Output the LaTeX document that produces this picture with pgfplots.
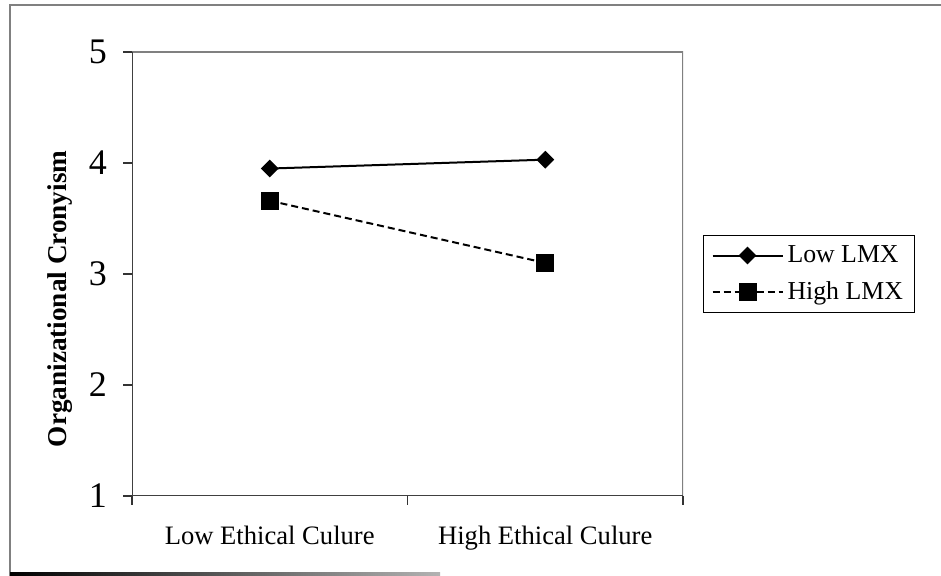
\documentclass[border=0pt]{standalone}
\usepackage{fontspec}
\setmainfont{Liberation Serif}
\usepackage{pgfplots}
\pgfplotsset{compat=1.18}
\begin{document}
\begin{tikzpicture}
  % page 941x576 px at 0.5pt per px
  \useasboundingbox (0,0) rectangle (470.5pt,288pt);
  % outer frame
  \draw[gray, line width=0.8pt] (5pt,0) -- (5pt,285.5pt) -- (470.5pt,285.5pt);
  \shade[left color=black, right color=gray!60] (5pt,0.2pt) rectangle (220pt,1.8pt);

  \begin{axis}[
    at={(66pt,40pt)}, anchor=south west,
    scale only axis, width=275.5pt, height=222pt,
    xmin=0, xmax=2, ymin=1, ymax=5,
    xtick={0,1,2},
    xticklabels={Low Ethical Culure, High Ethical Culure},
    x tick label as interval,
    ytick={1,2,3,4,5},
    tick align=outside, xtick pos=bottom, ytick pos=left,
    major tick length=4.5pt,
    tick style={black!80, line width=0.6pt},
    axis line style={draw=none},
    /pgf/number format/assume math mode=true,
    yticklabel style={font=\fontsize{18}{20}\selectfont, xshift=-4.5pt},
    xticklabel style={font=\fontsize{13.3}{15}\selectfont, yshift=-7pt},
    ylabel={\textbf{Organizational Cronyism}},
    ylabel style={font=\fontsize{13.6}{15}\selectfont, at={(axis description cs:-0.131,0.444)}, anchor=center},
    legend style={at={(1,0.5)}, anchor=west, xshift=10pt, draw=black, line width=0.5pt,
      font=\fontsize{12.9}{15}\selectfont, inner xsep=4pt, inner ysep=3pt,
      row sep=4pt, cells={anchor=west}},
    legend image code/.code={
      \draw[mark repeat=2, mark phase=2, #1] plot coordinates {(0pt,0pt) (17.5pt,0pt) (35pt,0pt)};
    },
  ]
    \draw[gray, line width=1pt] (rel axis cs:0,1) -- (rel axis cs:1,1) -- (rel axis cs:1,0);
    \draw[black!75, line width=1pt] (rel axis cs:0,1) -- (rel axis cs:0,0) -- (rel axis cs:1,0);

    \addplot[black, line width=1pt, mark=square*, mark size=2.65pt,
      mark options={solid, rotate=45}]
      coordinates {(0.5,3.95) (1.5,4.03)};
    \addplot[black, line width=1pt, dash pattern=on 3.5pt off 2pt, mark=square*, mark size=4pt,
      mark options={solid}]
      coordinates {(0.5,3.66) (1.5,3.10)};
    \legend{Low LMX, High LMX}
  \end{axis}
\end{tikzpicture}
\end{document}
